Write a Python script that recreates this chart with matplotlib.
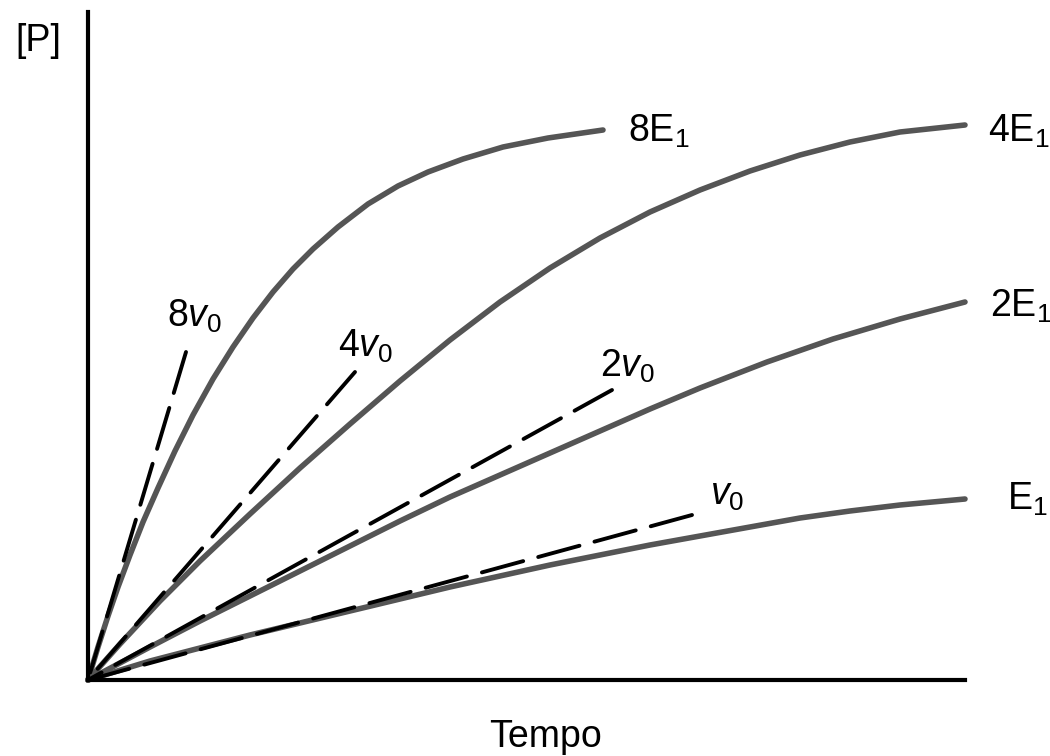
import matplotlib
matplotlib.use("Agg")
import matplotlib.pyplot as plt

plt.rcParams['font.family'] = ['Liberation Sans', 'DejaVu Sans']
plt.rcParams['mathtext.fontset'] = 'custom'
plt.rcParams['mathtext.rm'] = 'Liberation Sans'
plt.rcParams['mathtext.it'] = 'Liberation Sans:italic'

# progress curves [P] vs time (arbitrary units)
x_8e = [0, 10, 20, 30, 42, 55, 70, 87, 105, 125, 145, 165, 185, 205, 225, 250,
        280, 310, 340, 375, 415, 460, 515]
y_8e = [0, 33, 64, 93, 125, 158, 192, 229, 265, 301, 333, 362, 388, 411, 431, 453,
        476, 494, 508, 521, 533, 542, 550]

x_4e = [0, 32, 72, 112, 162, 212, 262, 312, 362, 412, 462, 512, 562, 612, 662, 712, 762, 812, 877]
y_4e = [0, 36, 79, 119, 166, 212, 256, 299, 340, 378, 412, 442, 468, 490, 509, 525, 538, 548, 555]

x_2e = [0, 62, 112, 162, 212, 262, 312, 362, 412, 462, 512, 562, 612, 679, 745, 812, 877]
y_2e = [0, 33, 59, 84, 109, 134, 159, 183, 205, 227, 249, 271, 292, 318, 341, 361, 378]

x_1e = [0, 62, 112, 162, 212, 262, 312, 362, 412, 462, 512, 562, 612, 662, 712, 762, 812, 877]
y_1e = [0, 19, 32, 45, 57, 69, 81, 93, 104, 115, 125, 135, 144, 153, 162, 169, 175, 181]

# initial-rate tangents (end points)
tan_x = [98, 267, 524, 604]
tan_y = [328, 308, 290, 165]

curve_labels = [r'$\mathrm{8E}_1$', r'$\mathrm{4E}_1$', r'$\mathrm{2E}_1$', r'$\mathrm{E}_1$']
curve_label_pos = [(540, 538), (900, 538), (902, 363), (919, 170)]
tan_labels = [r'$8v_0$', r'$4v_0$', r'$2v_0$', r'$v_0$']
tan_label_pos = [(79, 353), (250, 323), (512, 303), (622, 175)]

fig = plt.figure(figsize=(10.5, 7.56), dpi=100)
ax = fig.add_axes([88 / 1050, 76 / 756, 877 / 1050, 668 / 756])
ax.set_xlim(0, 877)
ax.set_ylim(0, 668)

gray = '#555555'
for xs, ys in [(x_8e, y_8e), (x_4e, y_4e), (x_2e, y_2e), (x_1e, y_1e)]:
    ax.plot(xs, ys, color=gray, lw=4, solid_capstyle='round',
            solid_joinstyle='round', clip_on=False, zorder=2)

# dashes drawn from the labelled end back to the origin
for tx, ty in zip(tan_x, tan_y):
    ax.plot([tx, 0], [ty, 0], color='black', lw=2.8, linestyle=(0, (11, 4)),
            dash_capstyle='round', clip_on=False, zorder=3)

for lab, (lx, ly) in zip(curve_labels, curve_label_pos):
    ax.text(lx, ly, lab, fontsize=27, ha='left', va='baseline')
for lab, (lx, ly) in zip(tan_labels, tan_label_pos):
    ax.text(lx, ly, lab, fontsize=27, ha='left', va='baseline')

ax.text(-73, 639, '[P]', fontsize=27, ha='left', va='center')
ax.text(458, -67, 'Tempo', fontsize=27, ha='center', va='baseline')

for side in ['top', 'right']:
    ax.spines[side].set_visible(False)
for side in ['left', 'bottom']:
    ax.spines[side].set_linewidth(3)
    ax.spines[side].set_color('black')
ax.set_xticks([])
ax.set_yticks([])

fig.savefig('out.png', dpi=100)
